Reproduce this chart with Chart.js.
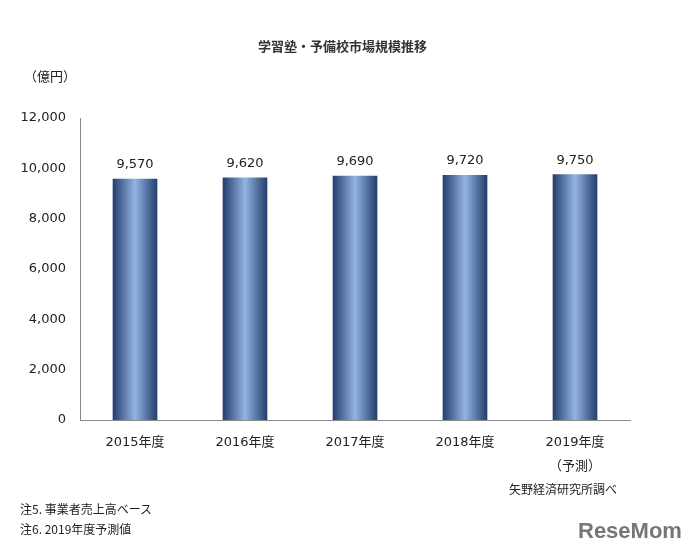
<!DOCTYPE html>
<html><head><meta charset="utf-8">
<script src="https://cdn.jsdelivr.net/npm/chart.js@4"></script>
<style>
body{margin:0;background:#fff;font-family:"Noto Sans CJK JP","DejaVu Sans",sans-serif;color:#222}
#wrap{position:relative;width:685px;height:559px}
.t{position:absolute;font-size:12px;white-space:nowrap}
</style></head><body>
<div id="wrap">
<canvas id="c" width="685" height="559"></canvas>
<div class="t" style="left:0;width:685px;text-align:center;top:36px;font-weight:bold;font-size:13px;color:#333">学習塾・予備校市場規模推移</div>
<div class="t" style="left:24px;top:66px;font-size:13px">（億円）</div>
<div class="t" style="left:509px;top:480px">矢野経済研究所調べ</div>
<div class="t" style="left:20px;top:500px">注5. 事業者売上高ベース</div>
<div class="t" style="left:20px;top:520px">注6. 2019年度予測値</div>
<div class="t" style="left:578px;top:518px;font-size:22px;font-weight:bold;color:#777;font-family:'Liberation Sans',sans-serif">ReseMom</div>
</div>
<script>
// chart data
const years = [['2015年度'], ['2016年度'], ['2017年度'], ['2018年度'], ['2019年度', '（予測）']];
const marketSize = [9570, 9620, 9690, 9720, 9750];
const yTicks = [0, 2000, 4000, 6000, 8000, 10000, 12000];

const BAR_W = 44;

function barGradient(ctx) {
  const chart = ctx.chart;
  const xs = chart.scales.x;
  if (!xs || ctx.dataIndex === undefined) return '#4a6ea8';
  const cx = xs.getPixelForValue(ctx.dataIndex);
  if (!isFinite(cx)) return '#4a6ea8';
  const g = chart.ctx.createLinearGradient(cx - BAR_W / 2, 0, cx + BAR_W / 2, 0);
  g.addColorStop(0, '#243f6e');
  g.addColorStop(0.5, '#93b4e4');
  g.addColorStop(1, '#243f6e');
  return g;
}

// value labels above bars
const valueLabels = {
  id: 'valueLabels',
  afterDatasetsDraw(chart) {
    const c = chart.ctx;
    c.save();
    c.font = '13px "DejaVu Sans", sans-serif';
    c.fillStyle = '#222';
    c.textAlign = 'center';
    c.textBaseline = 'bottom';
    chart.getDatasetMeta(0).data.forEach((el, i) => {
      c.fillText(marketSize[i].toLocaleString('en-US'), el.x, el.y - 8);
    });
    c.restore();
  }
};

const chart = new Chart(document.getElementById('c'), {
  type: 'bar',
  data: { labels: years, datasets: [{ data: marketSize, backgroundColor: barGradient, barThickness: BAR_W }] },
  plugins: [valueLabels],
  options: {
    responsive: false,
    animation: false,
    layout: { padding: { top: 118, right: 55, left: 0, bottom: 0 } },
    plugins: { legend: { display: false }, tooltip: { enabled: false } },
    scales: {
      x: {
        grid: { display: false, drawTicks: false },
        border: { color: '#888' },
        ticks: { color: '#222', font: { size: 13, lineHeight: 1.9, family: '"DejaVu Sans", "Noto Sans CJK JP", sans-serif' }, padding: 10 },
        afterFit: s => { s.height = 139; }
      },
      y: {
        min: 0, max: 12000,
        afterBuildTicks: s => { s.ticks = yTicks.map(v => ({ value: v })); },
        grid: { display: false, drawTicks: true, tickLength: 6, tickColor: '#888' },
        border: { color: '#888' },
        ticks: { color: '#222', font: { size: 13, family: '"DejaVu Sans", sans-serif' }, padding: 8, callback: v => v.toLocaleString('en-US') },
        afterFit: s => { s.width = 80; }
      }
    }
  }
});
chart.update();
</script>
</body></html>
